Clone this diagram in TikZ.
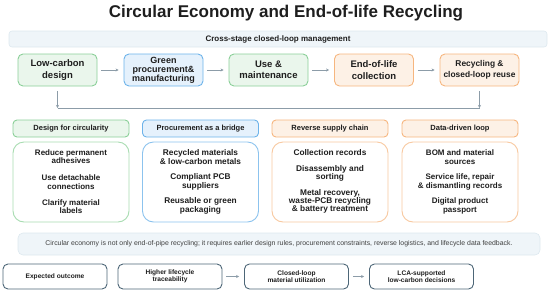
\documentclass[tikz,border=0pt]{standalone}
\usepackage{fontspec}
\setmainfont{Liberation Sans}
\usetikzlibrary{arrows.meta}
\definecolor{grnB}{HTML}{8ACF98}
\definecolor{grnF}{HTML}{EAF6EC}
\definecolor{grnL}{HTML}{A8DCB1}
\definecolor{bluB}{HTML}{6DB3EA}
\definecolor{bluF}{HTML}{E5F1FC}
\definecolor{bluL}{HTML}{8CC3EE}
\definecolor{orgB}{HTML}{F6B67F}
\definecolor{orgF}{HTML}{FDF1E6}
\definecolor{orgL}{HTML}{F8C9A0}
\definecolor{banF}{HTML}{EFF5F9}
\definecolor{banB}{HTML}{DDE8EF}
\definecolor{slate}{HTML}{4D6677}
\definecolor{arr}{HTML}{8C9CA8}
\definecolor{txt}{HTML}{1E1E1E}
\tikzset{
  stage/.style={draw, line width=0.9pt, rounded corners=5pt, minimum width=79pt, minimum height=32pt, align=center, font=\bfseries, text=txt, inner sep=1pt},
  head/.style={draw, line width=0.9pt, rounded corners=4pt, minimum width=116pt, minimum height=17pt, align=center, font=\fontsize{7.5}{9}\selectfont\bfseries, text=txt},
  body/.style={draw, line width=0.9pt, rounded corners=11pt, minimum width=116pt, minimum height=80pt, fill=white},
  item/.style={align=center, font=\fontsize{8}{8.6}\selectfont\bfseries, text=txt, inner sep=0pt},
  outc/.style={draw=slate, line width=0.9pt, rounded corners=5pt, minimum width=104pt, minimum height=25pt, align=center, font=\fontsize{6.6}{7.2}\selectfont\bfseries, text=txt, fill=white},
  flow/.style={draw=arr, line width=0.8pt, -{Stealth[length=3pt,width=3pt]}},
  fline/.style={draw=arr, line width=0.8pt}
}
\begin{document}
\begin{tikzpicture}[x=1pt,y=-1pt]
\useasboundingbox (0,0) rectangle (550,293);
\node[font=\fontsize{17}{20}\selectfont\bfseries, text=txt] (title) at (286,13) {Circular Economy and End-of-life Recycling};
\node[draw=banB, fill=banF, line width=0.6pt, rounded corners=3pt, minimum width=538pt, minimum height=16pt, font=\fontsize{8}{9}\selectfont\bfseries, text=txt] (banner) at (278,39) {Cross-stage closed-loop management};
% stages
\node[stage, draw=grnB, fill=grnF, font=\fontsize{9.5}{11.5}\selectfont\bfseries] (s1) at (57.5,70) {Low-carbon\\design};
\node[stage, draw=bluB, fill=bluF, font=\fontsize{9}{9}\selectfont\bfseries] (s2) at (163.5,70) {Green\\procurement\&\\manufacturing};
\node[stage, draw=grnB, fill=grnF, font=\fontsize{9.5}{11.5}\selectfont\bfseries] (s3) at (268.5,70) {Use \&\\maintenance};
\node[stage, draw=orgB, fill=orgF, font=\fontsize{9.5}{11.5}\selectfont\bfseries] (s4) at (374,70) {End-of-life\\collection};
\node[stage, draw=orgB, fill=orgF, font=\fontsize{8.4}{10.5}\selectfont\bfseries] (s5) at (479.5,70) {Recycling \&\\closed-loop reuse};
\draw[flow, shorten <=4pt, shorten >=5pt] (s1) -- (s2);
\draw[flow, shorten <=4pt, shorten >=5pt] (s2) -- (s3);
\draw[flow, shorten <=4pt, shorten >=5pt] (s3) -- (s4);
\draw[flow, shorten <=4pt, shorten >=5pt] (s4) -- (s5);
% feedback
\coordinate (cl) at (57.5,108);
\coordinate (cr) at (479.5,108);
\draw[flow, shorten <=5pt] (s1.south) -- (cl);
\draw[flow, shorten <=5pt] (s5.south) -- (cr);
\draw[fline] (cl) -- (cr);
% columns
\node[head, draw=grnB, fill=grnF] (h1) at (71,128.5) {Design for circularity};
\node[head, draw=bluB, fill=bluF] (h2) at (200.5,128.5) {Procurement as a bridge};
\node[head, draw=orgB, fill=orgF] (h3) at (330,128.5) {Reverse supply chain};
\node[head, draw=orgB, fill=orgF] (h4) at (460,128.5) {Data-driven loop};
\node[body, draw=grnL] (b1) at (71,182) {};
\node[body, draw=bluL] (b2) at (200.5,182) {};
\node[body, draw=orgL] (b3) at (330,182) {};
\node[body, draw=orgL] (b4) at (460,182) {};
\node[item] (i11) at (71,156.5) {Reduce permanent\\adhesives};
\node[item] (i12) at (71,182) {Use detachable\\connections};
\node[item] (i13) at (71,206.5) {Clarify material\\labels};
\node[item, font=\fontsize{8.3}{8.6}\selectfont\bfseries] (i21) at (200.5,157) {Recycled materials\\\& low-carbon metals};
\node[item, font=\fontsize{8.3}{8.6}\selectfont\bfseries] (i22) at (200.5,182) {Compliant PCB\\suppliers};
\node[item, font=\fontsize{8.3}{8.6}\selectfont\bfseries] (i23) at (200.5,206) {Reusable or green\\packaging};
\node[item, font=\fontsize{8.3}{8.3}\selectfont\bfseries] (i31) at (330,152.5) {Collection records};
\node[item, font=\fontsize{8.3}{8.3}\selectfont\bfseries] (i32) at (330,173.5) {Disassembly and\\sorting};
\node[item, font=\fontsize{8.3}{8.1}\selectfont\bfseries] (i33) at (330,201) {Metal recovery,\\waste-PCB recycling\\\& battery treatment};
\node[item] (i41) at (460,157) {BOM and material\\sources};
\node[item] (i42) at (460,182) {Service life, repair\\\& dismantling records};
\node[item] (i43) at (460,206) {Digital product\\passport};
% note
\node[draw=banB, fill=banF, line width=0.6pt, rounded corners=5pt, minimum width=522pt, minimum height=22pt, font=\fontsize{6.9}{8}\selectfont, text=txt!85] (note) at (279,244) {Circular economy is not only end-of-pipe recycling; it requires earlier design rules, procurement constraints, reverse logistics, and lifecycle data feedback.};
% outcomes
\node[outc] (o1) at (55,276.5) {Expected outcome};
\node[outc] (o2) at (170,276.5) {Higher lifecycle\\traceability};
\node[outc] (o3) at (296.5,276.5) {Closed-loop\\material utilization};
\node[outc] (o4) at (421.5,276.5) {LCA-supported\\low-carbon decisions};
\draw[flow, shorten <=4pt, shorten >=5pt] (o2) -- (o3);
\draw[flow, shorten <=4pt, shorten >=5pt] (o3) -- (o4);
\end{tikzpicture}
\end{document}
